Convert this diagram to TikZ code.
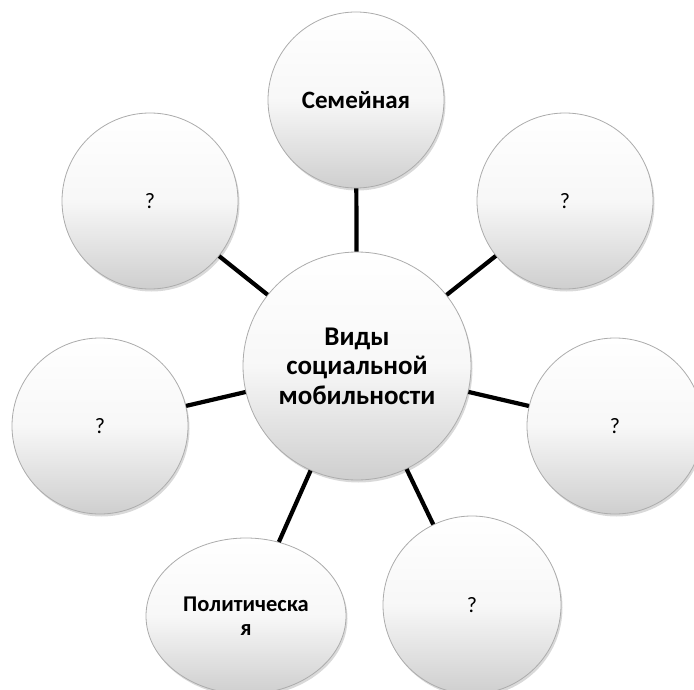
\documentclass[tikz,border=0pt]{standalone}
\usepackage{fontspec}
\setmainfont{Carlito}
\usetikzlibrary{shapes.geometric,shadows}
\begin{document}
\begin{tikzpicture}[x=1pt,y=1pt,
  bubble/.style={circle, draw=gray!65, line width=0.8pt, top color=white, bottom color=gray!38, middle color=gray!6,
    drop shadow={opacity=0.3,shadow xshift=1.5pt,shadow yshift=-2.5pt}, inner sep=0pt, align=center, text=black},
  bigtxt/.style={font=\fontsize{27}{29.5}\selectfont\bfseries},
  toptxt/.style={font=\fontsize{25}{27}\selectfont\bfseries},
  poltxt/.style={font=\fontsize{22.5}{24}\selectfont\bfseries},
  qtxt/.style={font=\fontsize{22}{24}\selectfont},
  link/.style={line width=4.2pt, black}]
\useasboundingbox (0,0) rectangle (694,-690);
\node[bubble, minimum size=228pt, bigtxt] (c) at (357,-366) {Виды\\социальной\\мобильности};
\node[bubble, minimum size=176pt, toptxt] (top) at (356,-100) {Семейная};
\node[bubble, minimum size=176pt, qtxt] (tr) at (565,-201) {?};
\node[bubble, minimum size=176pt, qtxt] (tl) at (150,-201) {?};
\node[bubble, minimum size=176pt, qtxt] (l) at (100,-426) {?};
\node[bubble, minimum size=176pt, qtxt] (r) at (615,-426) {?};
\node[bubble, minimum size=178pt, qtxt] (br) at (472,-605) {?};
\node[bubble, ellipse, minimum width=200pt, minimum height=156pt, poltxt] (bl) at (246,-616) {Политическа\\я};
\draw[link] (c) -- (top);
\draw[link] (c) -- (tr);
\draw[link] (c) -- (tl);
\draw[link] (c) -- (l);
\draw[link] (c) -- (r);
\draw[link] (c) -- (br);
\draw[link] (c) -- (bl);
\end{tikzpicture}
\end{document}
